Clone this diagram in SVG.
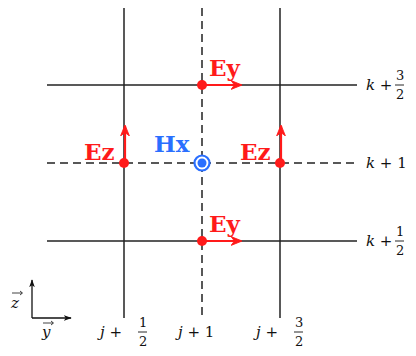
<svg xmlns="http://www.w3.org/2000/svg" width="416" height="356" viewBox="0 0 416 356">
<defs>
<style>
.g{stroke:#222;stroke-width:1.5;fill:none}
.d{stroke-dasharray:8 5}
.r{fill:#ff1a1a}
.ra{stroke:#ff1a1a;stroke-width:2.2;fill:none}
.lab{font-family:'DejaVu Serif','Liberation Serif',serif;font-weight:bold;font-size:23px}
.m{font-family:'DejaVu Serif','Liberation Serif',serif;font-size:15px;fill:#111}
.f{font-size:13px}
.mi{font-style:italic}
</style>
<marker id="ar" viewBox="0 0 10 10" refX="9" refY="5" markerWidth="5" markerHeight="5" orient="auto" markerUnits="strokeWidth">
<path d="M0,1 L10,5 L0,9 L3,5 Z" fill="#ff1a1a" stroke="#ff1a1a" stroke-width="0.8"/>
</marker>
<marker id="ak" viewBox="0 0 10 10" refX="9" refY="5" markerWidth="8" markerHeight="8" orient="auto" markerUnits="userSpaceOnUse">
<path d="M0,1.5 L10,5 L0,8.5 L2.5,5 Z" fill="#111"/>
</marker>
</defs>
<g id="connectors">
<line class="g" x1="124" y1="8" x2="124" y2="318"/>
<line class="g d" x1="202" y1="8" x2="202" y2="318"/>
<line class="g" x1="280" y1="8" x2="280" y2="318"/>
<line class="g" x1="47" y1="85" x2="357" y2="85"/>
<line class="g d" x1="47" y1="163" x2="357" y2="163"/>
<line class="g" x1="47" y1="241" x2="357" y2="241"/>
</g>
<g id="ey-top">
<line class="ra" x1="202" y1="85" x2="241" y2="85" marker-end="url(#ar)"/>
<circle class="r" cx="202" cy="85" r="5"/>
<text class="lab" x="209" y="76" fill="#ff1a1a">Ey</text>
</g>
<g id="ey-bottom">
<line class="ra" x1="202" y1="241" x2="241" y2="241" marker-end="url(#ar)"/>
<circle class="r" cx="202" cy="241" r="5"/>
<text class="lab" x="209" y="232" fill="#ff1a1a">Ey</text>
</g>
<g id="ez-left">
<line class="ra" x1="125" y1="163" x2="125" y2="126" marker-end="url(#ar)"/>
<circle class="r" cx="124" cy="163" r="5"/>
<text class="lab" x="84" y="160" fill="#ff1a1a">Ez</text>
</g>
<g id="ez-right">
<line class="ra" x1="281" y1="163" x2="281" y2="126" marker-end="url(#ar)"/>
<circle class="r" cx="280" cy="163" r="5"/>
<text class="lab" x="240" y="160" fill="#ff1a1a">Ez</text>
</g>
<g id="hx">
<circle cx="202" cy="163" r="7.5" fill="#fff" stroke="#2a6fff" stroke-width="2.2"/>
<circle cx="202" cy="163" r="4.5" fill="#2a6fff"/>
<text class="lab" x="154" y="152" fill="#2a6fff">Hx</text>
</g>
<g id="k-labels">
<text class="m" x="366" y="90"><tspan class="mi">k</tspan> + </text>
<text class="m f" x="396" y="80">3</text>
<line x1="395" y1="85" x2="404" y2="85" stroke="#111" stroke-width="0.9"/>
<text class="m f" x="396" y="99">2</text>
<text class="m" x="366" y="168"><tspan class="mi">k</tspan> + 1</text>
<text class="m" x="366" y="246"><tspan class="mi">k</tspan> + </text>
<text class="m f" x="396" y="236">1</text>
<line x1="395" y1="241" x2="404" y2="241" stroke="#111" stroke-width="0.9"/>
<text class="m f" x="396" y="255">2</text>
</g>
<g id="j-labels">
<text class="m" x="100" y="337"><tspan class="mi">j</tspan> + </text>
<text class="m f" x="139" y="327">1</text>
<line x1="138" y1="332" x2="147" y2="332" stroke="#111" stroke-width="0.9"/>
<text class="m f" x="139" y="346">2</text>
<text class="m" x="178" y="337"><tspan class="mi">j</tspan> + 1</text>
<text class="m" x="256" y="337"><tspan class="mi">j</tspan> + </text>
<text class="m f" x="295" y="327">3</text>
<line x1="294" y1="332" x2="303" y2="332" stroke="#111" stroke-width="0.9"/>
<text class="m f" x="295" y="346">2</text>
</g>
<g id="axes">
<line x1="32" y1="318" x2="32" y2="280" stroke="#111" stroke-width="1.3" marker-end="url(#ak)"/>
<line x1="32" y1="318" x2="71" y2="318" stroke="#111" stroke-width="1.3" marker-end="url(#ak)"/>
<text class="m mi" x="11" y="308" font-size="16">z</text>
<line x1="12" y1="293" x2="22" y2="293" stroke="#111" stroke-width="0.8"/>
<path d="M20,291 L22.5,293 L20,295" fill="none" stroke="#111" stroke-width="0.8"/>
<text class="m mi" x="42" y="337" font-size="16">y</text>
<line x1="43" y1="323" x2="53" y2="323" stroke="#111" stroke-width="0.8"/>
<path d="M51,321 L53.5,323 L51,325" fill="none" stroke="#111" stroke-width="0.8"/>
</g>
</svg>
